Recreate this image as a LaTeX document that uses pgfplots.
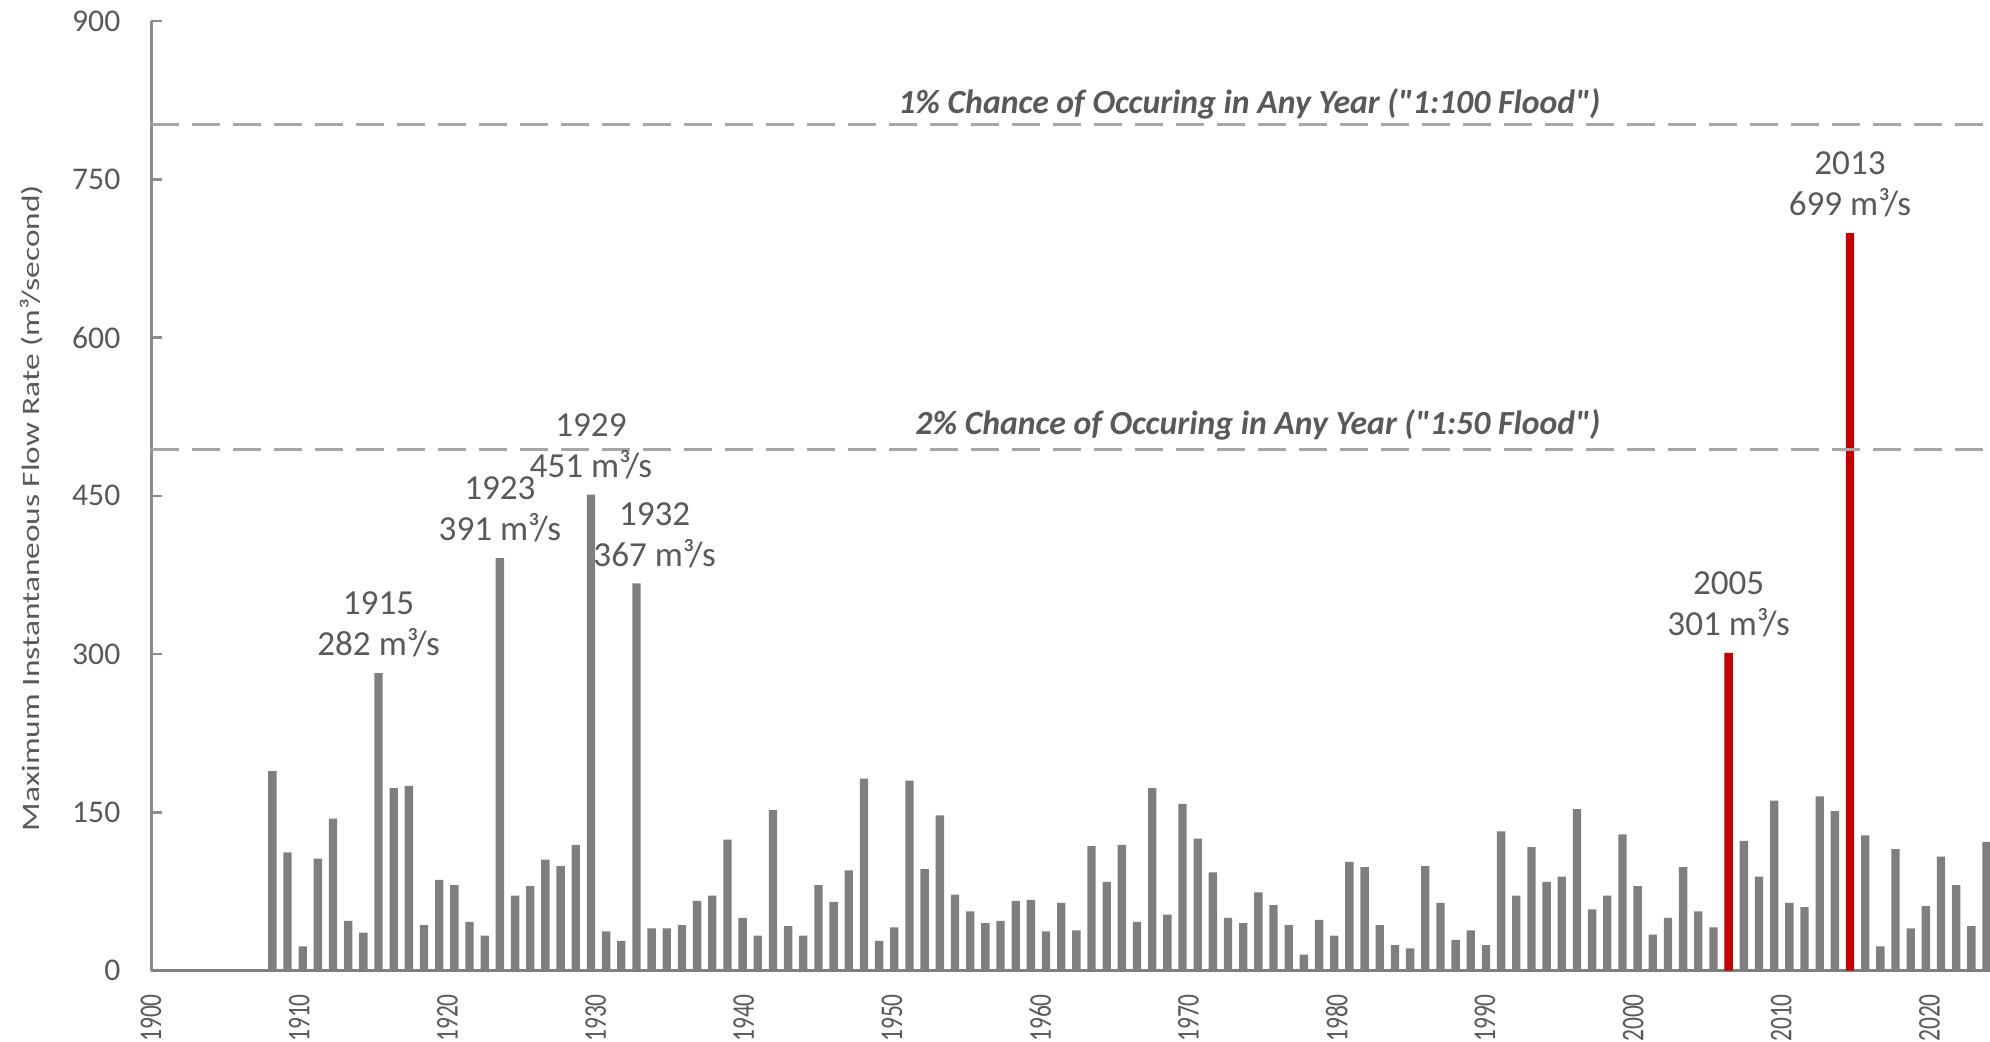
\documentclass[border=0pt]{standalone}
\usepackage{graphicx}
\usepackage{pgfplots}
\pgfplotsset{compat=1.18}
\usepackage{pgfplotstable}
\usepackage{fontspec}
\setmainfont{Carlito}[Ligatures=TeXOff]
\definecolor{bargray}{HTML}{7F7F7F}
\definecolor{barred}{HTML}{C00000}
\definecolor{txtgray}{HTML}{595959}
\definecolor{dashgray}{HTML}{A6A6A6}
\definecolor{axisgray}{HTML}{8C8C8C}
\newcommand\sx[1]{\scalebox{0.74}[1]{#1}}
\tikzset{
  anno/.style={anchor=south, align=center, inner sep=0pt, yshift=1.5mm,
    font=\fontsize{10}{11.7}\selectfont, text=txtgray},
  reflab/.style={anchor=base east, inner sep=0pt,
    font=\fontsize{9.6}{10}\selectfont\bfseries\itshape, text=txtgray},
}

% bar slot (one per year of record) and maximum instantaneous flow (m3/s)
\pgfplotstableread{
x y
1908 189
1909 112
1910 23
1911 106
1912 144
1913 47
1914 36
1915 282
1916 173
1917 175
1918 43
1919 86
1920 81
1921 46
1922 33
1923 391
1924 71
1925 80
1926 105
1927 99
1928 119
1929 451
1930 37
1931 28
1932 367
1933 40
1934 40
1935 43
1936 66
1937 71
1938 124
1939 50
1940 33
1941 152
1942 42
1943 33
1944 81
1945 65
1946 95
1947 182
1948 28
1949 41
1950 180
1951 96
1952 147
1953 72
1954 56
1955 45
1956 47
1957 66
1958 67
1959 37
1960 64
1961 38
1962 118
1963 84
1964 119
1965 46
1966 173
1967 53
1968 158
1969 125
1970 93
1971 50
1972 45
1973 74
1974 62
1975 43
1976 15
1977 48
1978 33
1979 103
1980 98
1981 43
1982 24
1983 21
1984 99
1985 64
1986 29
1987 38
1988 24
1989 132
1990 71
1991 117
1992 84
1993 89
1994 153
1995 58
1996 71
1997 129
1998 80
1999 34
2000 50
2001 98
2002 56
2003 41
2005 123
2006 89
2007 161
2008 64
2009 60
2010 165
2011 151
2013 128
2014 23
2015 115
2016 40
2017 61
2018 108
2019 81
2020 42
2021 122
}\graydata
\pgfplotstableread{
x y
2004 301
2012 699
}\reddata

\begin{document}
\begin{tikzpicture}
\begin{axis}[
  at={(15.1mm,7.05mm)}, anchor=south west,
  scale only axis, width=183.9mm, height=94.95mm,
  xmin=1900, xmax=2021.23, ymin=0, ymax=900,
  axis x line=bottom, axis y line=left,
  axis line style={-},
  x axis line style={draw=bargray, line width=0.22mm},
  y axis line style={draw=axisgray, line width=0.3mm},
  ytick={0,150,...,900},
  xtick={1900,1909.77,1919.54,1929.31,1939.08,1948.85,1958.62,1968.39,1978.16,1987.93,1997.70,2007.47,2017.24},
  xticklabels={\sx{1900},\sx{1910},\sx{1920},\sx{1930},\sx{1940},\sx{1950},\sx{1960},\sx{1970},\sx{1980},\sx{1990},\sx{2000},\sx{2010},\sx{2020}},
  tick align=inside,
  major tick length=1.1mm,
  xtick style={draw=none},
  ytick style={draw=axisgray, line width=0.25mm},
  /pgf/number format/assume math mode=true,
  yticklabel style={font=\fontsize{9}{10}\selectfont, text=txtgray, anchor=east, inner sep=0pt},
  yticklabel shift=3mm,
  xticklabel style={font=\fontsize{9}{10}\selectfont, text=txtgray, rotate=90, anchor=east, inner sep=0pt},
  xticklabel shift=1.2mm,
  ybar, bar width=0.55,
]
\addplot[fill=bargray, draw=none, bar shift=0pt] table[x=x,y=y]{\graydata};
\addplot[fill=barred, draw=none, bar shift=0pt] table[x=x,y=y]{\reddata};
\addplot[sharp plot, draw=dashgray, line width=0.3mm, dash pattern=on 2.8mm off 1.3mm]
  coordinates {(1900,802) (2021.23,802)};
\addplot[sharp plot, draw=dashgray, line width=0.3mm, dash pattern=on 2.8mm off 1.3mm]
  coordinates {(1900,494.3) (2021.23,494.3)};
\node[reflab, yshift=1.05mm] at (axis cs:1995.6,802) {1\% Chance of Occuring in Any Year ("1:100 Flood")};
\node[reflab, yshift=1.5mm] at (axis cs:1995.6,494.3) {2\% Chance of Occuring in Any Year ("1:50 Flood")};
\node[anno] at (axis cs:1915,282) {1915\\282 m³/s};
\node[anno] at (axis cs:1923,391) {1923\\391 m³/s};
\node[anno] at (axis cs:1929,451) {1929\\451 m³/s};
\node[anno] at (axis cs:1933.2,367) {1932\\367 m³/s};
\node[anno] at (axis cs:2004,301) {2005\\301 m³/s};
\node[anno] at (axis cs:2012,699) {2013\\699 m³/s};
\end{axis}
\node[rotate=90, text=txtgray, inner sep=0pt] at (3.2mm,53.3mm)
  {\scalebox{1}[0.75]{\fontsize{9.5}{11}\selectfont Maximum Instantaneous Flow Rate (m³/second)}};
\pgfresetboundingbox
\path[use as bounding box] (0,0) rectangle (199mm,104.1mm);
\end{tikzpicture}
\end{document}
